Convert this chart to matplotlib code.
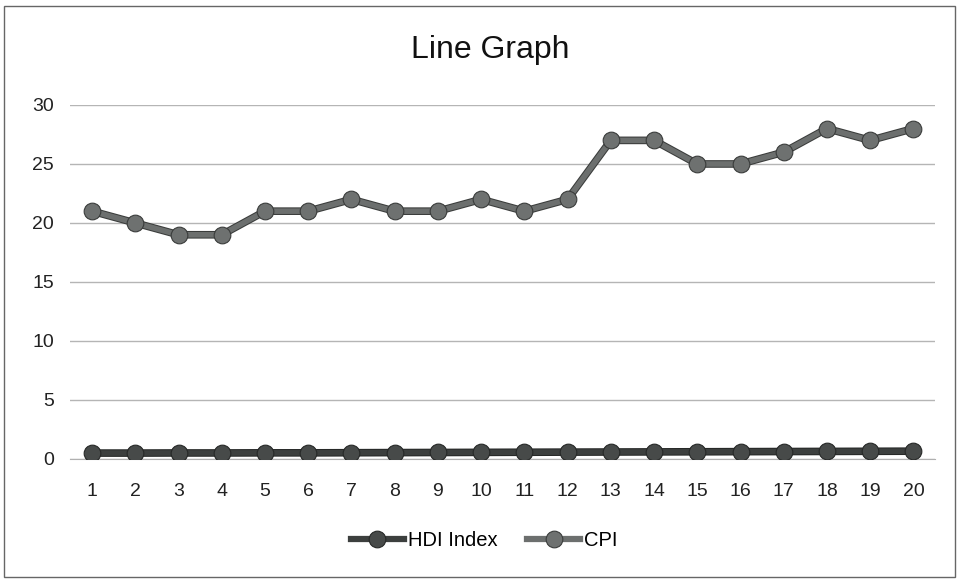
import matplotlib.pyplot as plt
import matplotlib.patheffects as pe
from matplotlib.patches import Rectangle
from matplotlib.lines import Line2D

# data
x_labels = [str(i) for i in range(1, 21)]
hdi_index = [0.50, 0.50, 0.51, 0.51, 0.52, 0.52, 0.53, 0.54, 0.55, 0.56,
             0.57, 0.58, 0.59, 0.60, 0.61, 0.62, 0.63, 0.64, 0.65, 0.66]
cpi = [21, 20, 19, 19, 21, 21, 22, 21, 21, 22,
       21, 22, 27, 27, 25, 25, 26, 28, 27, 28]

plt.rcParams['font.family'] = ['Liberation Sans', 'DejaVu Sans']

fig = plt.figure(figsize=(9.59, 5.79), dpi=100)
ax = fig.add_axes([0.0735, 0.2073, 0.9015, 0.6114])

xs = list(range(1, len(x_labels) + 1))

# outer border of the chart
fig.patches.append(Rectangle((0.004, 0.004), 0.992, 0.985, transform=fig.transFigure,
                             fill=False, edgecolor='#666666', linewidth=1))

styles = [
    (hdi_index, 'HDI Index', '#3c3f3e', '#262827', '#474a49', 4),
    (cpi, 'CPI', '#6c6f6e', '#3a3c3b', '#6e7170', 3),
]
handles = []
for values, name, col, edge, face, z in styles:
    ax.plot(xs, values, color=col, linewidth=4, zorder=z,
            path_effects=[pe.Stroke(linewidth=5.5, foreground=edge), pe.Normal()])
    ax.plot(xs, values, linestyle='none', marker='o', markersize=12,
            markerfacecolor=face, markeredgecolor=edge, markeredgewidth=0.8, zorder=z + 0.5)
    # legend handle: plain thick line with the same marker
    handles.append(Line2D([], [], color=col, linewidth=4.5, marker='o', markersize=12,
                          markerfacecolor=face, markeredgecolor=edge, markeredgewidth=0.8,
                          label=name))

ax.set_xlim(0.5, len(xs) + 0.5)
ax.set_ylim(0, 30)
ax.set_yticks(range(0, 31, 5))
ax.set_xticks(xs)
ax.set_xticklabels(x_labels)
ax.tick_params(axis='both', length=0, labelsize=14, colors='#222222')
ax.tick_params(axis='y', pad=12)
ax.tick_params(axis='x', pad=17)
ax.grid(axis='y', color='#b5b5b5', linewidth=1)
ax.set_axisbelow(True)
for side in ['top', 'right', 'left']:
    ax.spines[side].set_visible(False)
ax.spines['bottom'].set_color('#b0b0b0')

fig.text(0.511, 0.913, 'Line Graph', ha='center', va='center', fontsize=23, color='#111111')

fig.legend(handles=handles, loc='center', bbox_to_anchor=(0.505, 0.067), ncol=2, frameon=False,
           fontsize=14.5, handlelength=2.6, columnspacing=1.5, handletextpad=0.2)

fig.savefig('out.png', dpi=100)
